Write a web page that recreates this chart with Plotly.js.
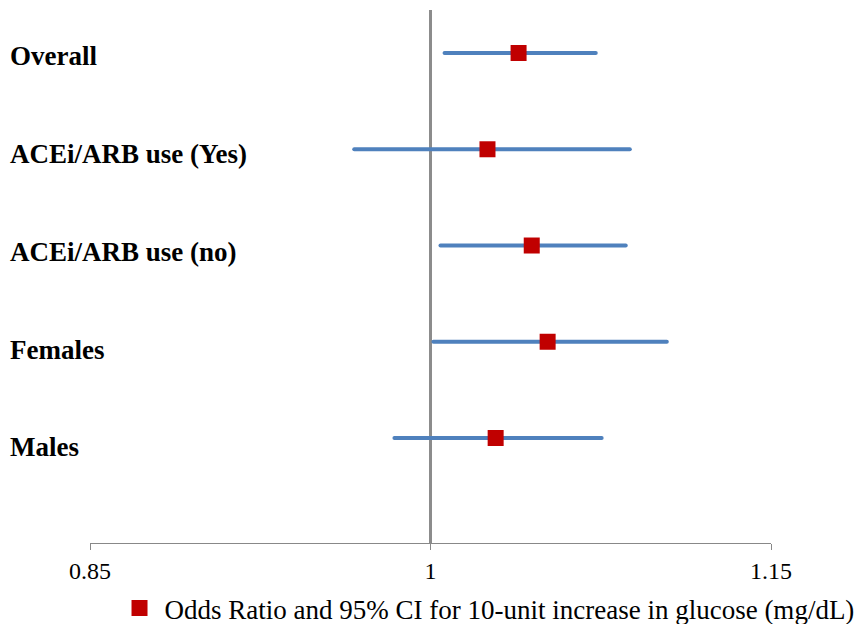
<!DOCTYPE html>
<html>
<head>
<meta charset="utf-8">
<script src="https://cdn.plot.ly/plotly-3.0.1.min.js"></script>
<style>
  html, body { margin: 0; padding: 0; background: #fff; }
  #chart { width: 865px; height: 624px; }
  .js-line { stroke-linecap: round; }
</style>
</head>
<body>
<div id="chart"></div>
<script>
// Data
const groups = ['Overall', 'ACEi/ARB use (Yes)', 'ACEi/ARB use (no)', 'Females', 'Males'];
const oddsRatio = [1.0388, 1.0251, 1.0446, 1.0516, 1.0287];
const ciLower = [1.0062, 0.9664, 1.0044, 1.0013, 0.9841];
const ciUpper = [1.0728, 1.0878, 1.0860, 1.1041, 1.0754];
const xTicks = [0.85, 1, 1.15];
const xTickLabels = ['0.85', '1', '1.15'];
const legendLabel = 'Odds Ratio and 95% CI for 10-unit increase in glucose (mg/dL)';

// Build CI segments
const ciX = [], ciY = [];
groups.forEach((g, i) => {
  ciX.push(ciLower[i], ciUpper[i], null);
  ciY.push(g, g, null);
});

const serif = '"Liberation Serif", "Times New Roman", serif';

const traces = [
  {
    type: 'scatter', mode: 'lines',
    x: ciX, y: ciY,
    line: { color: '#4f81bd', width: 4 },
    showlegend: false, hoverinfo: 'skip',
    connectgaps: false
  },
  {
    type: 'scatter', mode: 'markers',
    x: oddsRatio, y: groups,
    marker: { symbol: 'square', size: 16, color: '#c00000' },
    name: legendLabel,
    showlegend: true
  }
];

const annotations = groups.map((g, i) => ({
  xref: 'paper', yref: 'y',
  x: -82 / 681, y: g,
  xanchor: 'left', yanchor: 'middle',
  yshift: -(3 + 1.6 * i),
  text: '<b>' + g + '</b>',
  showarrow: false,
  font: { family: serif, size: 27, color: '#000' }
}));

const layout = {
  width: 865, height: 624,
  margin: { l: 90, r: 94, t: 10, b: 81, autoexpand: false },
  paper_bgcolor: '#fff', plot_bgcolor: '#fff',
  font: { family: serif, color: '#000' },
  xaxis: {
    range: [0.85, 1.15],
    tickvals: xTicks, ticktext: xTickLabels,
    showgrid: false, zeroline: false,
    showline: true, linecolor: '#888', linewidth: 1,
    ticks: 'outside', ticklen: 6, tickcolor: '#888', tickwidth: 1,
    tickfont: { family: serif, size: 24, color: '#000' },
    ticklabelstandoff: 0,
    fixedrange: true
  },
  yaxis: {
    type: 'category',
    categoryorder: 'array',
    categoryarray: groups.slice().reverse(),
    range: [-1.091, 4.447],
    showticklabels: false, showgrid: false, zeroline: false, showline: false,
    ticks: '',
    fixedrange: true
  },
  shapes: [{
    type: 'line', xref: 'x', yref: 'paper',
    x0: 1, x1: 1, y0: 0, y1: 1,
    line: { color: '#8c8c8c', width: 3 },
    layer: 'below'
  }],
  annotations: annotations,
  showlegend: true,
  legend: {
    orientation: 'h',
    x: 0.036, xanchor: 'left',
    y: -0.123, yanchor: 'middle',
    itemwidth: 40,
    font: { family: serif, size: 27, color: '#000' },
    bgcolor: 'rgba(0,0,0,0)'
  }
};

Plotly.newPlot('chart', traces, layout, { displayModeBar: false, staticPlot: true });
</script>
</body>
</html>
